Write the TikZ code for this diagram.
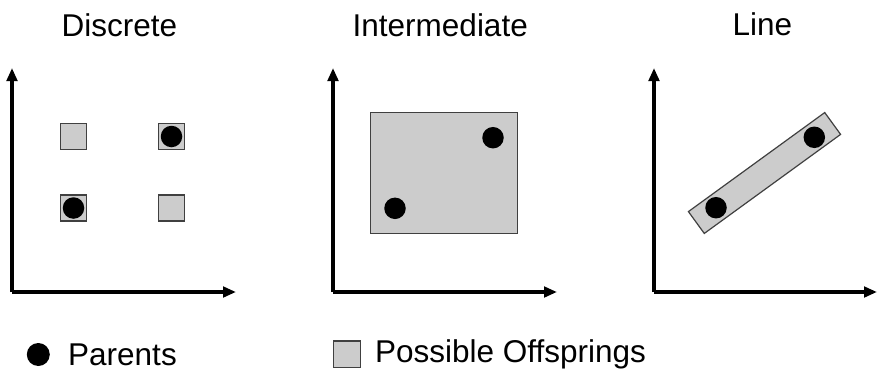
\documentclass[tikz,border=0pt]{standalone}
\usepackage{fontspec}
\setmainfont{Liberation Sans}
\usetikzlibrary{arrows.meta}
\begin{document}
\begin{tikzpicture}[x=1pt,y=-1pt,
  axis/.style={line width=3.2pt,-{Triangle[length=13pt,width=10.5pt]}},
  offspring/.style={draw=black!75,fill=black!20,line width=1.2pt,rectangle,inner sep=0pt},
  cell/.style={offspring,minimum size=26pt},
  parent/.style={circle,fill=black,inner sep=0pt,minimum size=21.5pt},
  lbl/.style={inner sep=0pt,anchor=base west,font=\fontsize{31.5}{37}\selectfont}]
\useasboundingbox (0,0) rectangle (882,375);

% titles
\node[lbl] (t1) at (61.5,36) {Discrete};
\node[lbl] (t2) at (352.5,36) {Intermediate};
\node[lbl] (t3) at (732.5,35.5) {Line};

% axes origins and ends
\coordinate (o1) at (12,292);   \coordinate (y1) at (12,68);   \coordinate (x1) at (236,292);
\coordinate (o2) at (333,292);  \coordinate (y2) at (333,68);  \coordinate (x2) at (557,292);
\coordinate (o3) at (654,292);  \coordinate (y3) at (654,68);  \coordinate (x3) at (877,292);

% discrete panel
\node[cell] (d1) at (73.5,136.5) {};
\node[cell] (d2) at (171.5,136.5) {};
\node[cell] (d3) at (73.5,208) {};
\node[cell] (d4) at (171.5,208) {};
\node[parent] (p1) at (d2) {};
\node[parent] (p2) at (d3) {};

% intermediate panel
\node[offspring,minimum width=146.5pt,minimum height=121pt] (box) at (444,172.8) {};
\node[parent] (p3) at (493,137.7) {};
\node[parent] (p4) at (395,208.3) {};

% line panel
\node[offspring,minimum width=168.5pt,minimum height=27pt,rotate=36] (bar) at (764.5,173) {};
\node[parent] (p5) at (716,207.7) {};
\node[parent] (p6) at (814.3,137.3) {};

% axes
\draw[axis] (o1) -- (y1);  \draw[axis] (o1) -- (x1);
\draw[axis] (o2) -- (y2);  \draw[axis] (o2) -- (x2);
\draw[axis] (o3) -- (y3);  \draw[axis] (o3) -- (x3);

% legend
\node[parent,minimum size=23pt] (lp) at (38.3,354.5) {};
\node[lbl] (lpt) at (68,365.7) {Parents};
\node[offspring,minimum size=26.5pt] (lo) at (347,354.3) {};
\node[lbl] (lot) at (375,362.3) {Possible Offsprings};
\end{tikzpicture}
\end{document}
